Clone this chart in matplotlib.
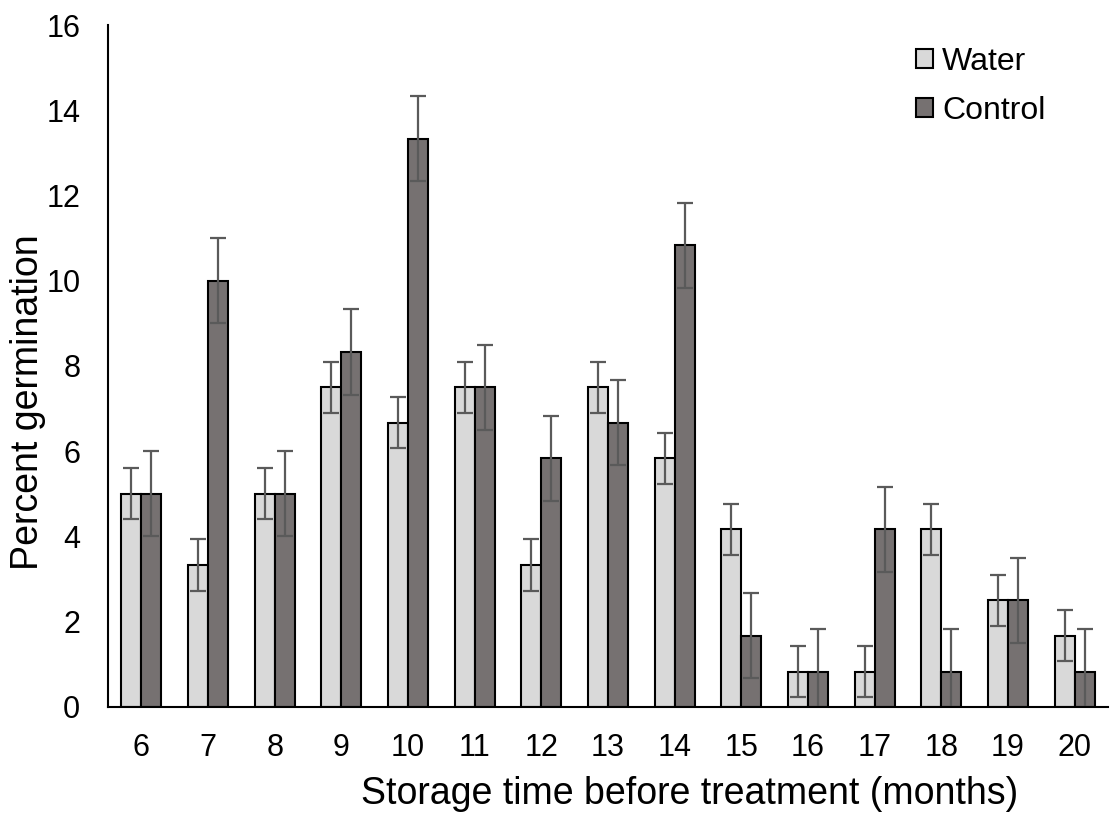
import matplotlib
matplotlib.use("Agg")
import matplotlib.pyplot as plt
import numpy as np

plt.rcParams['font.family'] = ['Liberation Sans', 'DejaVu Sans']

months = ["6", "7", "8", "9", "10", "11", "12", "13", "14", "15", "16", "17", "18", "19", "20"]
water = [5.0, 3.33, 5.0, 7.5, 6.67, 7.5, 3.33, 7.5, 5.83, 4.17, 0.83, 0.83, 4.17, 2.5, 1.67]
control = [5.0, 10.0, 5.0, 8.33, 13.33, 7.5, 5.83, 6.67, 10.83, 1.67, 0.83, 4.17, 0.83, 2.5, 0.83]
water_err = [0.6] * 15
control_err = [1.0] * 15

fig = plt.figure(figsize=(11.15, 8.23), dpi=100)
ax = fig.add_axes([0.0969, 0.141, 0.8968, 0.8286])

x = np.arange(len(months))
w = 0.3
ekw = dict(ecolor="#5a5a5a", elinewidth=1.6, capsize=6, capthick=1.6)
ax.bar(x - w/2, water, w, color="#d9d9d9", edgecolor="black", linewidth=1.5,
       yerr=water_err, error_kw=ekw, label="Water")
ax.bar(x + w/2, control, w, color="#767171", edgecolor="black", linewidth=1.5,
       yerr=control_err, error_kw=ekw, label="Control")

ax.set_xlim(-0.5, len(months) - 0.5)
ax.set_ylim(0, 16)
ax.set_yticks(np.arange(0, 17, 2))
ax.set_xticks(x)
ax.set_xticklabels(months)
ax.tick_params(axis="both", length=0, labelsize=22)
ax.tick_params(axis="y", pad=20)
ax.tick_params(axis="x", pad=19)
for s in ["top", "right"]:
    ax.spines[s].set_visible(False)
for s in ["left", "bottom"]:
    ax.spines[s].set_linewidth(1.5)

ax.set_xlabel("Storage time before treatment (months)", fontsize=27, labelpad=9)
ax.set_ylabel("Percent germination", fontsize=27, labelpad=0)
ax.xaxis.label.set_x(0.582)
ax.yaxis.label.set_y(0.447)

leg = ax.legend(loc="upper right", bbox_to_anchor=(0.963, 1.005), frameon=False, fontsize=23,
                handlelength=0.53, handleheight=0.53, handletextpad=0.28, labelspacing=0.58,
                borderpad=0.3)

fig.savefig("out.png", dpi=100)
